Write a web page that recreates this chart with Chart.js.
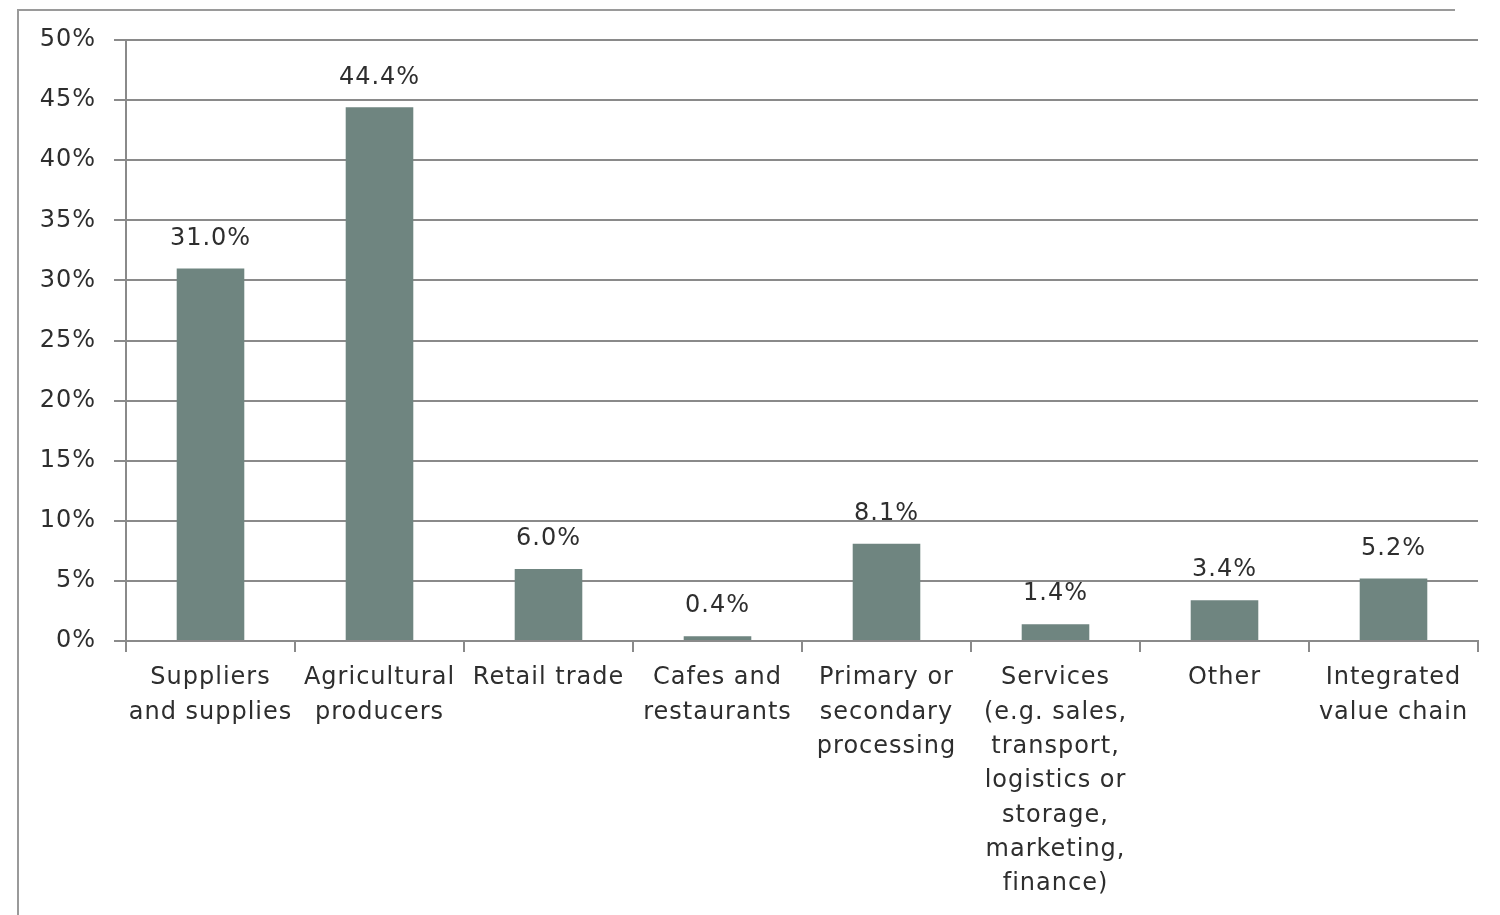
<!DOCTYPE html>
<html>
<head>
<meta charset="utf-8">
<script src="https://cdn.jsdelivr.net/npm/chart.js@4.4.1/dist/chart.umd.min.js"></script>
<style>
html,body{margin:0;padding:0;background:#fff;}
#wrap{width:1500px;height:915px;position:relative;}
</style>
</head>
<body>
<div id="wrap"><canvas id="c" width="1500" height="915"></canvas></div>
<script>
const categories = [
  ["Suppliers","and supplies"],
  ["Agricultural","producers"],
  ["Retail trade"],
  ["Cafes and","restaurants"],
  ["Primary or","secondary","processing"],
  ["Services","(e.g. sales,","transport,","logistics or","storage,","marketing,","finance)"],
  ["Other"],
  ["Integrated","value chain"]
];
const values = [31.0, 44.4, 6.0, 0.4, 8.1, 1.4, 3.4, 5.2];
const yTicks = [0, 5, 10, 15, 20, 25, 30, 35, 40, 45, 50];

const FONT = "'DejaVu Sans', sans-serif";
const TXT = '#2e2e2e';

const frame = {
  id: 'frame',
  beforeDraw(chart) {
    const ctx = chart.ctx;
    ctx.letterSpacing = '1px';
    ctx.save();
    ctx.strokeStyle = '#9a9a9a';
    ctx.lineWidth = 2;
    ctx.beginPath();
    ctx.moveTo(18, 915);
    ctx.lineTo(18, 10);
    ctx.lineTo(1455, 10);
    ctx.stroke();
    ctx.restore();
  }
};

const barLabels = {
  id: 'barLabels',
  afterDatasetsDraw(chart) {
    const ctx = chart.ctx;
    const meta = chart.getDatasetMeta(0);
    ctx.save();
    ctx.font = '24px ' + FONT;
    ctx.fillStyle = TXT;
    ctx.textAlign = 'center';
    ctx.textBaseline = 'middle';
    meta.data.forEach((bar, i) => {
      ctx.fillText(values[i].toFixed(1) + '%', bar.x, bar.y - 30);
    });
    ctx.restore();
  }
};

new Chart(document.getElementById('c'), {
  type: 'bar',
  data: {
    labels: categories,
    datasets: [{
      data: values,
      backgroundColor: '#6f8580',
      borderWidth: 0,
      barPercentage: 0.4,
      categoryPercentage: 1.0
    }]
  },
  options: {
    responsive: false,
    animation: false,
    devicePixelRatio: 1,
    layout: { padding: { top: 40, right: 22, left: 0, bottom: 0 } },
    plugins: { legend: { display: false }, tooltip: { enabled: false } },
    scales: {
      x: {
        offset: true,
        grid: {
          offset: true,
          drawOnChartArea: false,
          drawTicks: true,
          tickLength: 11,
          color: '#8a8a8a',
          lineWidth: 2
        },
        border: { display: true, color: '#8a8a8a', width: 2 },
        ticks: {
          autoSkip: false,
          maxRotation: 0,
          minRotation: 0,
          padding: 9,
          color: TXT,
          font: { family: FONT, size: 24, lineHeight: 1.43 }
        },
        afterFit(s) { s.height = 915 - 641; }
      },
      y: {
        min: 0,
        max: 50,
        afterBuildTicks(s) { s.ticks = yTicks.map(v => ({ value: v })); },
        grid: {
          color: '#8a8a8a',
          lineWidth: 2,
          drawTicks: true,
          tickLength: 12
        },
        border: { display: true, color: '#8a8a8a', width: 2 },
        ticks: {
          padding: 18,
          color: TXT,
          font: { family: FONT, size: 24 },
          callback: v => v + '%'
        },
        afterFit(s) { s.width = 126; }
      }
    }
  },
  plugins: [frame, barLabels]
});
</script>
</body>
</html>
